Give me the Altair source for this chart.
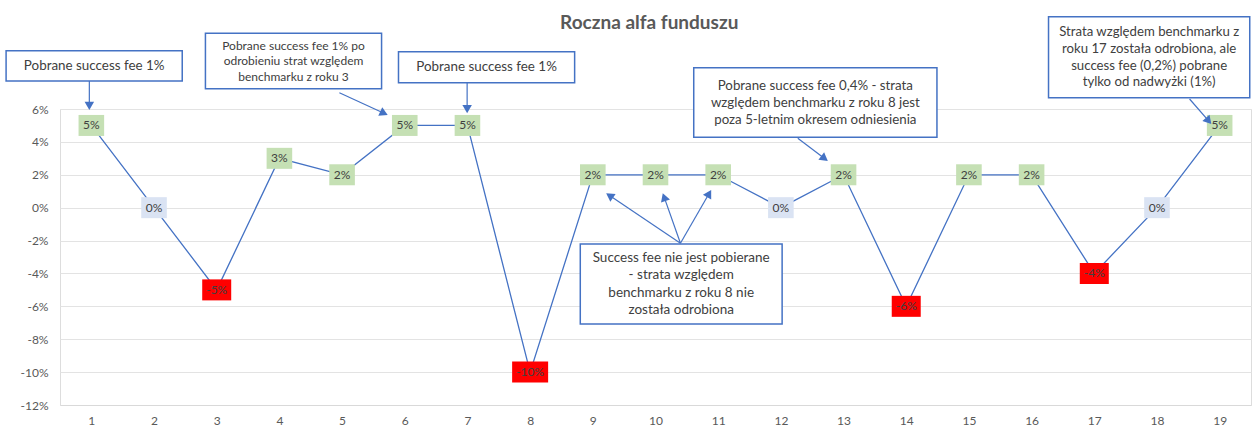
import math
import altair as alt
import pandas as pd

# ---------------- data ----------------
years = list(range(1, 20))
alpha = [5, 0, -5, 3, 2, 5, 5, -10, 2, 2, 2, 0, 2, -6, 2, 2, -4, 0, 5]
labels = [f"{v}%" for v in alpha]
kinds = ["pos" if v > 0 else ("zero" if v == 0 else "neg") for v in alpha]

y_ticks = list(range(-12, 7, 2))

title_text = "Roczna alfa funduszu"

# annotation callouts (data units: x = year, y = %)
ann_text = [
    "Pobrane success fee 1%",
    "Pobrane success fee 1% po\nodrobieniu strat względem\nbenchmarku z roku 3",
    "Pobrane success fee 1%",
    "Pobrane success fee 0,4% - strata\nwzględem benchmarku z roku 8 jest\npoza 5-letnim okresem odniesienia",
    "Strata względem benchmarku z\nroku 17 została odrobiona, ale\nsuccess fee (0,2%) pobrane\ntylko od nadwyżki (1%)",
    "Success fee nie jest pobierane\n- strata względem\nbenchmarku z roku 8 nie\nzostała odrobiona",
]
ann_x1 = [-0.36, 2.82, 5.90, 10.61, 16.27, 8.80]
ann_x2 = [2.45, 5.63, 8.71, 14.49, 19.48, 12.02]
ann_y1 = [7.70, 7.23, 7.60, 4.28, 6.69, -7.07]
ann_y2 = [9.54, 10.60, 9.48, 8.51, 11.61, -2.21]
ann_fs = [13.4, 12, 13.4, 13.3, 13.2, 13.5]
ann_lh = [16, 15.5, 16, 17, 16.7, 17.3]

arrow_x0 = [0.968, 4.957, 6.995, 12.27, 18.52, 10.398, 10.398, 10.398]
arrow_y0 = [7.70, 6.99, 7.60, 4.219, 6.608, -2.164, -2.164, -2.164]
arrow_x1 = [0.968, 5.728, 6.995, 12.749, 18.867, 9.213, 10.116, 10.888]
arrow_y1 = [5.94, 5.635, 5.739, 2.839, 5.088, 0.875, 0.875, 1.076]

# ---------------- layout ----------------
W, H = 1191, 296
XDOM = [0.5, 19.5]
YDOM = [-12, 6]
PXX = W / (XDOM[1] - XDOM[0])
PXY = H / (YDOM[1] - YDOM[0])
BLUE = "#4472C4"
FONT = "Lato"

xs = alt.Scale(domain=XDOM, nice=False, zero=False)
ys = alt.Scale(domain=YDOM, nice=False, zero=False)
xa = alt.Axis(values=years, format="d", title=None, grid=False, ticks=False,
              domainColor="#d9d9d9", domainWidth=1.2,
              labelColor="#595959", labelFontSize=12, labelPadding=10, labelFont=FONT)
ya = alt.Axis(values=y_ticks, title=None, domain=False, ticks=False,
              gridColor="#e3e3e3", gridWidth=1, labelOverlap=False,
              labelExpr="datum.value + '%'",
              labelColor="#595959", labelFontSize=12, labelPadding=12, labelFont=FONT)


def X(f):
    return alt.X(f, scale=xs, axis=xa)


def Y(f):
    return alt.Y(f, scale=ys, axis=ya)


df = pd.DataFrame({"year": years, "alpha": alpha, "label": labels, "kind": kinds})
df["len"] = df["label"].str.len()

base = alt.Chart(df)

line = base.mark_line(color=BLUE, strokeWidth=1.3).encode(x=X("year:Q"), y=Y("alpha:Q"))

color_scale = alt.Scale(domain=["pos", "zero", "neg"],
                        range=["#C5E0B4", "#DAE3F3", "#FF0000"])

rect_layers = []
for n, hw in [(2, 12.8), (3, 14.5), (4, 18)]:
    rect_layers.append(
        base.transform_filter(f"datum.len == {n}").mark_rect(
            xOffset=-hw, x2Offset=hw, yOffset=-10.5, y2Offset=10.5
        ).encode(
            x=X("year:Q"), x2="year:Q",
            y=Y("alpha:Q"), y2="alpha:Q",
            color=alt.Color("kind:N", scale=color_scale, legend=None),
        )
    )

label_text = base.mark_text(fontSize=12, color="#404040", font=FONT, baseline="middle").encode(
    x=X("year:Q"), y=Y("alpha:Q"), text="label:N"
)

# annotation boxes
ann_df = pd.DataFrame({"x1": ann_x1, "x2": ann_x2, "y1": ann_y1, "y2": ann_y2, "txt": ann_text})
ann_df["xc"] = (ann_df.x1 + ann_df.x2) / 2
ann_df["yc"] = (ann_df.y1 + ann_df.y2) / 2

boxes = alt.Chart(ann_df).mark_rect(fill="white", stroke=BLUE, strokeWidth=1.5).encode(
    x=X("x1:Q"), x2="x2:Q", y=Y("y1:Q"), y2="y2:Q"
)

text_layers = []
for i in range(len(ann_text)):
    sub = ann_df.iloc[[i]]
    nlines = ann_text[i].count("\n") + 1
    text_layers.append(
        alt.Chart(sub).mark_text(fontSize=ann_fs[i], lineHeight=ann_lh[i], lineBreak="\n",
                                 dy=-(nlines - 1) * ann_lh[i] / 2,
                                 color="#404040", font=FONT, baseline="middle", align="center").encode(
            x=X("xc:Q"), y=Y("yc:Q"), text="txt:N"
        )
    )

# arrows
HEAD = 90
h = math.sqrt(3) * (math.sqrt(HEAD) / 2) / 2
rows = []
for x0, y0, x1, y1 in zip(arrow_x0, arrow_y0, arrow_x1, arrow_y1):
    dx = (x1 - x0) * PXX
    dy = -(y1 - y0) * PXY
    L = math.hypot(dx, dy)
    ux, uy = dx / L, dy / L
    cx = x1 - ux * h / PXX
    cy = y1 + uy * h / PXY
    ang = math.degrees(math.atan2(ux, -uy)) % 360
    rows.append({"x0": x0, "y0": y0, "cx": cx, "cy": cy, "ang": ang})
arr_df = pd.DataFrame(rows)

arrow_lines = alt.Chart(arr_df).mark_rule(color=BLUE, strokeWidth=1.2).encode(
    x=X("x0:Q"), y=Y("y0:Q"), x2="cx:Q", y2="cy:Q"
)
arrow_heads = alt.Chart(arr_df).mark_point(shape="triangle-up", filled=True, color=BLUE,
                                          size=HEAD, opacity=1).encode(
    x=X("cx:Q"), y=Y("cy:Q"),
    angle=alt.Angle("ang:Q", scale=None)
)

# chart title, placed through the scales (centre of the figure, above the plot)
title_df = pd.DataFrame({"t": [title_text], "x": [9.9], "y": [11.23]})
title = alt.Chart(title_df).mark_text(fontSize=19, fontWeight="bold", color="#595959",
                                      font=FONT, baseline="middle", align="center").encode(
    x=X("x:Q"), y=Y("y:Q"), text="t:N"
)

chart = alt.layer(line, *rect_layers, label_text, arrow_lines, arrow_heads, boxes,
                  *text_layers, title).properties(
    width=W, height=H,
    autosize=alt.AutoSizeParams(type="none"),
    padding={"left": 60, "top": 109, "right": 4, "bottom": 21},
).configure_view(stroke=None).configure(font=FONT, background="white")

chart.save("out.html", embed_options={"renderer": "svg", "actions": False})
